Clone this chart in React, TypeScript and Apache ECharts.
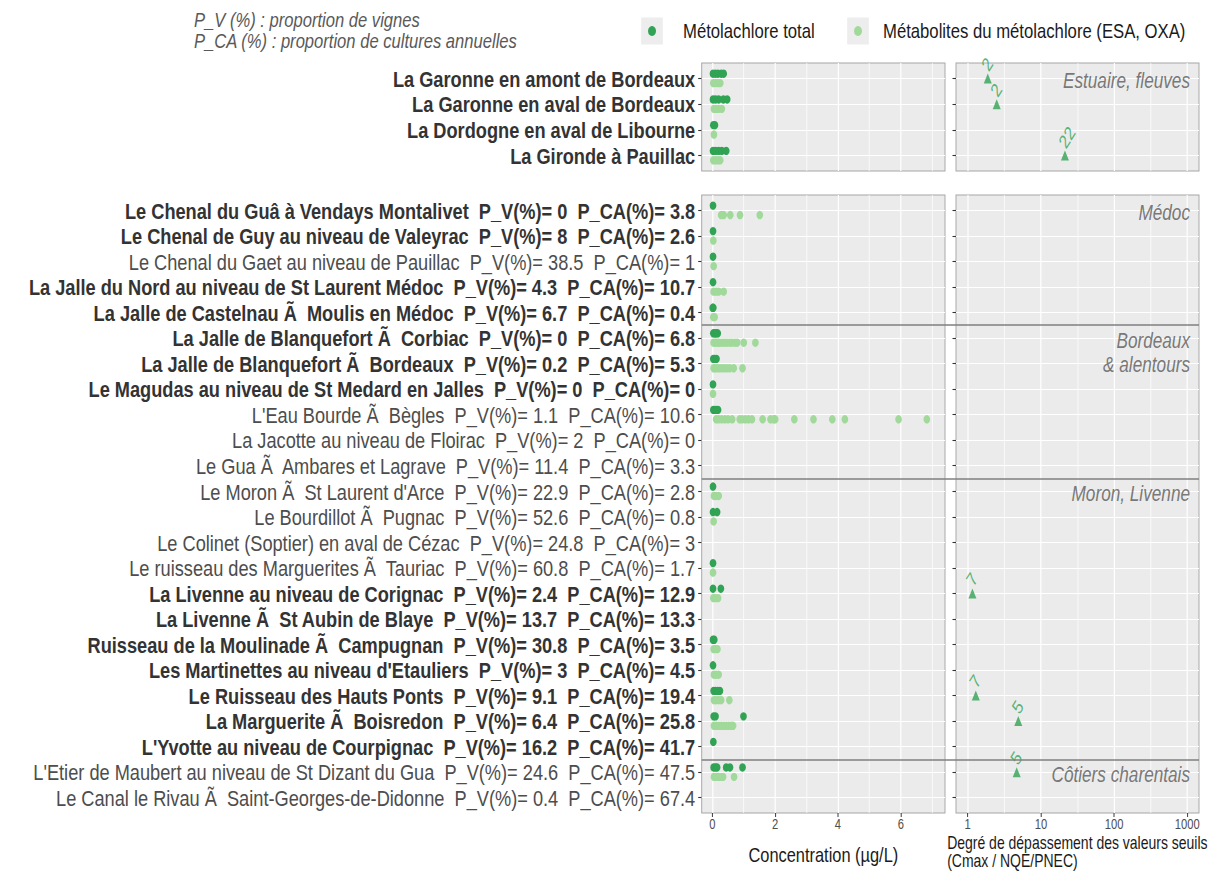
import React, { useEffect, useRef } from "react";
import * as echarts from "echarts";

// ---------------- data ----------------
const estuaryNames = [
  "La Garonne en amont de Bordeaux",
  "La Garonne en aval de Bordeaux",
  "La Dordogne en aval de Libourne",
  "La Gironde à Pauillac",
];
const estuaryBold = [true, true, true, true];

const streamNames = [
  "Le Chenal du Guâ à Vendays Montalivet",
  "Le Chenal de Guy au niveau de Valeyrac",
  "Le Chenal du Gaet au niveau de Pauillac",
  "La Jalle du Nord au niveau de St Laurent Médoc",
  "La Jalle de Castelnau Ã\u00a0 Moulis en Médoc",
  "La Jalle de Blanquefort Ã\u00a0 Corbiac",
  "La Jalle de Blanquefort Ã\u00a0 Bordeaux",
  "Le Magudas au niveau de St Medard en Jalles",
  "L'Eau Bourde Ã\u00a0 Bègles",
  "La Jacotte au niveau de Floirac",
  "Le Gua Ã\u00a0 Ambares et Lagrave",
  "Le Moron Ã\u00a0 St Laurent d'Arce",
  "Le Bourdillot Ã\u00a0 Pugnac",
  "Le Colinet (Soptier) en aval de Cézac",
  "Le ruisseau des Marguerites Ã\u00a0 Tauriac",
  "La Livenne au niveau de Corignac",
  "La Livenne Ã\u00a0 St Aubin de Blaye",
  "Ruisseau de la Moulinade Ã\u00a0 Campugnan",
  "Les Martinettes au niveau d'Etauliers",
  "Le Ruisseau des Hauts Ponts",
  "La Marguerite Ã\u00a0 Boisredon",
  "L'Yvotte au niveau de Courpignac",
  "L'Etier de Maubert au niveau de St Dizant du Gua",
  "Le Canal le Rivau Ã\u00a0 Saint-Georges-de-Didonne",
];
const streamPV = ["0", "8", "38.5", "4.3", "6.7", "0", "0.2", "0", "1.1", "2", "11.4", "22.9", "52.6", "24.8", "60.8", "2.4", "13.7", "30.8", "3", "9.1", "6.4", "16.2", "24.6", "0.4"];
const streamPCA = ["3.8", "2.6", "1", "10.7", "0.4", "6.8", "5.3", "0", "10.6", "0", "3.3", "2.8", "0.8", "3", "1.7", "12.9", "13.3", "3.5", "4.5", "19.4", "25.8", "41.7", "47.5", "67.4"];
const streamBold = [true, true, false, true, true, true, true, true, false, false, false, false, false, false, false, true, true, true, true, true, true, true, false, false];

// concentrations (µg/L), one list per station
const estuaryTotal = [
  [0.02, 0.1, 0.18, 0.28, 0.36],
  [0.02, 0.1, 0.2, 0.35, 0.47],
  [0.03, 0.08],
  [0.02, 0.1, 0.2, 0.3, 0.44],
];
const estuaryMetab = [
  [0.03, 0.1, 0.18, 0.25],
  [0.05, 0.12, 0.2, 0.3],
  [0.05],
  [0.03, 0.1, 0.18, 0.25],
];
const streamTotal = [
  [0.02], [0.02], [0.02], [0.02], [0.01, 0.03],
  [0.03, 0.08, 0.12, 0.17], [0.03, 0.08, 0.13], [0.02], [0.03, 0.08, 0.13, 0.18], [], [],
  [0.02], [0.02, 0.15], [], [0.02], [0.02, 0.27], [], [0.02, 0.06], [0.02], [0.04, 0.1, 0.17, 0.24], [0.04, 0.1, 0.99], [0.03],
  [0.04, 0.1, 0.15, 0.44, 0.56, 0.96], [],
];
const streamMetab = [
  [0.28, 0.36, 0.57, 0.88, 1.51], [0.03], [0.04], [0.04, 0.12, 0.2, 0.36], [0.03, 0.07],
  [0.04, 0.1, 0.16, 0.22, 0.3, 0.38, 0.46, 0.55, 0.63, 0.72, 0.79, 1.0, 1.37],
  [0.04, 0.1, 0.18, 0.26, 0.35, 0.45, 0.55, 0.68, 0.96],
  [0.02],
  [0.12, 0.2, 0.3, 0.4, 0.5, 0.63, 0.87, 0.95, 1.05, 1.15, 1.26, 1.6, 1.85, 1.95, 2.0, 2.61, 3.22, 3.82, 4.22, 5.93, 6.83],
  [], [],
  [0.05, 0.12, 0.2], [0.04], [], [0.02], [0.03, 0.1, 0.18], [], [0.04, 0.1, 0.16], [0.05, 0.12, 0.2],
  [0.05, 0.12, 0.2, 0.28, 0.54], [0.05, 0.12, 0.2, 0.28, 0.36, 0.44, 0.52, 0.6, 0.66], [],
  [0.05, 0.12, 0.2, 0.28, 0.34, 0.69], [],
];

// degree of exceedance of thresholds (Cmax / NQE/PNEC)
const estuaryExceedRows = [0, 1, 3];
const estuaryExceedValues = [1.88, 2.49, 21.3];
const estuaryExceedLabels = ["2", "2", "22"];
const streamExceedRows = [15, 19, 20, 22];
const streamExceedValues = [1.16, 1.29, 4.91, 4.67];
const streamExceedLabels = ["7", "7", "5", "5"];

const estuaryGroupNames = ["Estuaire, fleuves"];
const estuaryGroupRows = [0];
const streamGroupNames = ["Médoc", "Bordeaux\n& alentours", "Moron, Livenne", "Côtiers charentais"];
const streamGroupRows = [0, 5, 11, 22];
const streamGroupBreaks = [4.5, 10.5, 21.5];

const concTicks = [0, 2, 4, 6];
const concMinorTicks = [1, 3, 5, 7];
const ratioTicks = [1, 10, 100, 1000];
const ratioMinorTicks = [Math.sqrt(10), Math.sqrt(1000), Math.sqrt(100000)];

const SERIES_TOTAL = "Métolachlore total";
const SERIES_METAB = "Métabolites du métolachlore (ESA, OXA)";

// ---------------- styling / layout ----------------
const S = 0.8; // horizontal compression of the reference rendering
const W = 1231 / S;
const H = 872;
const X = (sx: number) => sx / S;
const FONT = "'Liberation Sans', Arial, Helvetica, sans-serif";
const DARK = "#31a354";
const LIGHT = "#a1d99b";
const PANEL = { lLeft: 701.7, lRight: 945, rLeft: 956, rRight: 1199, tTop: 63, tBottom: 171, bTop: 195, bBottom: 813 };
const CONC = { min: -0.34, max: 7.41 };
const RATIO = { min: -0.16, max: 3.16 };
const FY = 18.2 / S;

const lg = (v: number) => Math.log10(v);

function gridBox(l: number, r: number, t: number, b: number, show = true) {
  return {
    left: X(l), width: X(r - l), top: t, height: b - t,
    show, backgroundColor: "#ebebeb", borderColor: "#a6a6a6", borderWidth: 1.2,
    outerBoundsMode: "none", containLabel: false,
  };
}

function rowLabel(names: string[], bold: boolean[], pv?: string[], pca?: string[]) {
  return (v: number) => {
    const i = Math.round(v);
    let t = names[i];
    if (pv && pca) t = `${t}\u00a0 P_V(%)= ${pv[i]}\u00a0 P_CA(%)= ${pca[i]}`;
    return `{${bold[i] ? "b" : "r"}|${t}}`;
  };
}

function rowAxis(gridIndex: number, n: number, formatter?: (v: number) => string) {
  const rows = Array.from({ length: n }, (_, i) => i);
  return {
    type: "value", gridIndex, inverse: true, min: -0.6, max: n - 0.4, position: "left",
    axisLine: { show: false, onZero: false },
    axisTick: { show: true, customValues: rows, length: X(3.5), lineStyle: { color: "#333", width: 1.1 } },
    axisLabel: {
      show: !!formatter, customValues: rows, formatter, margin: X(6.5),
      rich: {
        b: { fontWeight: "bold", fontSize: FY, color: "#333", fontFamily: FONT },
        r: { fontWeight: "normal", fontSize: FY, color: "#4d4d4d", fontFamily: FONT },
      },
    },
    splitLine: { show: false },
  };
}

function majorX(gridIndex: number, range: { min: number; max: number }, ticks: number[], showLabels: boolean, formatter?: (v: number) => string, extra: any = {}) {
  return {
    type: "value", gridIndex, min: range.min, max: range.max, position: "bottom",
    axisLine: { show: false, onZero: false },
    axisTick: { show: showLabels, customValues: ticks, length: 4, lineStyle: { color: "#333", width: 1.2 } },
    axisLabel: { show: showLabels, customValues: ticks, formatter, color: "#4d4d4d", fontSize: 14, fontFamily: FONT, margin: 5 },
    splitLine: { show: false },
    ...extra,
  };
}

const toPoints = (rows: number[][]) => rows.flatMap((vals, i) => vals.map((v) => [v, i]));

// white panel grid lines (major / minor verticals, one horizontal per station)
function gridLineSeries(xi: number, yi: number, major: number[], minor: number[], nRows: number) {
  const rows = Array.from({ length: nRows }, (_, i) => i);
  return {
    type: "scatter", name: "grille", xAxisIndex: xi, yAxisIndex: yi, data: [], silent: true, z: 1,
    markLine: {
      silent: true, symbol: ["none", "none"], label: { show: false }, z: 1,
      data: [
        ...minor.map((v) => ({ xAxis: v, lineStyle: { color: "#fff", width: 0.8, type: "solid" } })),
        ...major.map((v) => ({ xAxis: v, lineStyle: { color: "#fff", width: 1.5, type: "solid" } })),
        ...rows.map((r) => ({ yAxis: r, lineStyle: { color: "#fff", width: 1.2, type: "solid" } })),
      ],
    },
  };
}

function pointSeries(name: string, color: string, rows: number[][], xi: number, yi: number, dy: number) {
  return {
    type: "scatter", name, xAxisIndex: xi, yAxisIndex: yi, data: toPoints(rows),
    symbol: "circle", symbolSize: 8.4, symbolOffset: [0, dy],
    itemStyle: { color, opacity: 1 }, z: 3, silent: true,
  };
}

function exceedSeries(rows: number[], values: number[], labels: string[], xi: number, yi: number) {
  return {
    type: "scatter", name: "Dépassement", xAxisIndex: xi, yAxisIndex: yi,
    data: rows.map((r, k) => [lg(values[k]), r]),
    symbol: "triangle", symbolSize: [10, 10], itemStyle: { color: DARK }, z: 3, silent: true,
    label: {
      show: true, formatter: (p: any) => labels[p.dataIndex], position: [1, -5],
      rotate: 52, align: "left", verticalAlign: "middle", color: DARK, fontSize: 19, fontFamily: FONT,
    },
  };
}

function groupSeries(names: string[], rows: number[], xi: number, yi: number) {
  return {
    type: "scatter", name: "groupe", xAxisIndex: xi, yAxisIndex: yi,
    data: rows.map((r) => [RATIO.max, r]), symbolSize: 0, silent: true, z: 4,
    label: {
      show: true, formatter: (p: any) => names[p.dataIndex], position: "left", distance: X(9),
      align: "right", verticalAlign: "top", offset: [0, -10], lineHeight: 24,
      fontStyle: "italic", fontSize: 21.5, color: "#595959", fontFamily: FONT,
    },
  };
}

function buildOption(): any {
  const ratioFmt = (v: number) => String(Math.round(Math.pow(10, v)));
  return {
    animation: false,
    backgroundColor: "#fff",
    textStyle: { fontFamily: FONT },
    title: {
      text: "P_V (%) : proportion de vignes\nP_CA (%) : proportion de cultures annuelles",
      left: X(194), top: 9.5, padding: 0,
      textStyle: { fontStyle: "italic", fontWeight: "normal", fontSize: 16.6 / S, lineHeight: 21, color: "#595959", fontFamily: FONT },
    },
    legend: [
      {
        data: [SERIES_TOTAL], left: X(648), top: 20.5, padding: 0, icon: "circle", itemWidth: 10, itemHeight: 10, z: 5,
        textStyle: { fontSize: 16.7 / S, color: "#1a1a1a", fontFamily: FONT, padding: [0, 0, 0, X(27) - 5] },
      },
      {
        data: [SERIES_METAB], left: X(854), top: 20.5, padding: 0, icon: "circle", itemWidth: 10, itemHeight: 10, z: 5,
        textStyle: { fontSize: 16.7 / S, color: "#1a1a1a", fontFamily: FONT, padding: [0, 0, 0, X(21) - 5] },
      },
    ],
    graphic: {
      elements: [
        { type: "rect", left: X(652) - 13.5, top: 17.5, shape: { width: 27, height: 27 }, style: { fill: "#ededed" }, z: 0 },
        { type: "rect", left: X(858) - 13.5, top: 17.5, shape: { width: 27, height: 27 }, style: { fill: "#ededed" }, z: 0 },
      ],
    },
    grid: [
      gridBox(PANEL.lLeft, PANEL.lRight, PANEL.tTop, PANEL.tBottom),
      gridBox(PANEL.rLeft, PANEL.rRight, PANEL.tTop, PANEL.tBottom),
      gridBox(PANEL.lLeft, PANEL.lRight, PANEL.bTop, PANEL.bBottom),
      gridBox(PANEL.rLeft, PANEL.rRight, PANEL.bTop, PANEL.bBottom),
      gridBox(PANEL.lLeft, PANEL.rRight, PANEL.bTop, PANEL.bBottom, false),
    ],
    xAxis: [
      majorX(0, CONC, concTicks, false),
      majorX(1, RATIO, ratioTicks.map(lg), false),
      majorX(2, CONC, concTicks, true, (v: number) => String(v), {
        name: "Concentration (µg/L)", nameLocation: "middle", nameGap: 31, nameMoveOverlap: false,
        nameTextStyle: { fontSize: 16.4 / S, color: "#1a1a1a", fontFamily: FONT },
      }),
      majorX(3, RATIO, ratioTicks.map(lg), true, ratioFmt, {
        name: "{a|Degré de dépassement des valeurs seuils}\n{a|(Cmax / NQE/PNEC)}",
        nameLocation: "middle", nameGap: 20.5, nameMoveOverlap: false,
        nameTextStyle: { rich: { a: { align: "left", fontSize: 17.5, lineHeight: 18.5, color: "#1a1a1a", fontFamily: FONT } } },
      }),
      { type: "value", gridIndex: 4, min: 0, max: 1, show: false },
    ],
    yAxis: [
      rowAxis(0, estuaryNames.length, rowLabel(estuaryNames, estuaryBold)),
      rowAxis(1, estuaryNames.length),
      rowAxis(2, streamNames.length, rowLabel(streamNames, streamBold, streamPV, streamPCA)),
      rowAxis(3, streamNames.length),
      { type: "value", gridIndex: 4, inverse: true, min: -0.6, max: streamNames.length - 0.4, show: false },
    ],
    series: [
      gridLineSeries(0, 0, concTicks, concMinorTicks, estuaryNames.length),
      gridLineSeries(1, 1, ratioTicks.map(lg), ratioMinorTicks.map(lg), estuaryNames.length),
      gridLineSeries(2, 2, concTicks, concMinorTicks, streamNames.length),
      gridLineSeries(3, 3, ratioTicks.map(lg), ratioMinorTicks.map(lg), streamNames.length),
      pointSeries(SERIES_TOTAL, DARK, estuaryTotal, 0, 0, -4.7),
      pointSeries(SERIES_METAB, LIGHT, estuaryMetab, 0, 0, 4.7),
      pointSeries(SERIES_TOTAL, DARK, streamTotal, 2, 2, -4.7),
      pointSeries(SERIES_METAB, LIGHT, streamMetab, 2, 2, 4.7),
      exceedSeries(estuaryExceedRows, estuaryExceedValues, estuaryExceedLabels, 1, 1),
      exceedSeries(streamExceedRows, streamExceedValues, streamExceedLabels, 3, 3),
      groupSeries(estuaryGroupNames, estuaryGroupRows, 1, 1),
      groupSeries(streamGroupNames, streamGroupRows, 3, 3),
      {
        type: "scatter", name: "séparation", xAxisIndex: 4, yAxisIndex: 4, data: [], silent: true, z: 5,
        markLine: {
          silent: true, symbol: ["none", "none"], label: { show: false }, z: 5,
          lineStyle: { color: "#7f7f7f", width: 1.6, type: "solid" },
          data: streamGroupBreaks.map((b) => ({ yAxis: b })),
        },
      },
    ],
  };
}

export default function App() {
  const ref = useRef<HTMLDivElement>(null);
  useEffect(() => {
    if (!ref.current) return;
    const chart = echarts.init(ref.current, null, { renderer: "svg" });
    chart.setOption(buildOption());
    return () => chart.dispose();
  }, []);
  return (
    <div
      ref={ref}
      style={{
        position: "fixed", left: 0, top: 0, width: W, height: H,
        transform: `scaleX(${S})`, transformOrigin: "0 0", background: "#fff",
      }}
    />
  );
}
